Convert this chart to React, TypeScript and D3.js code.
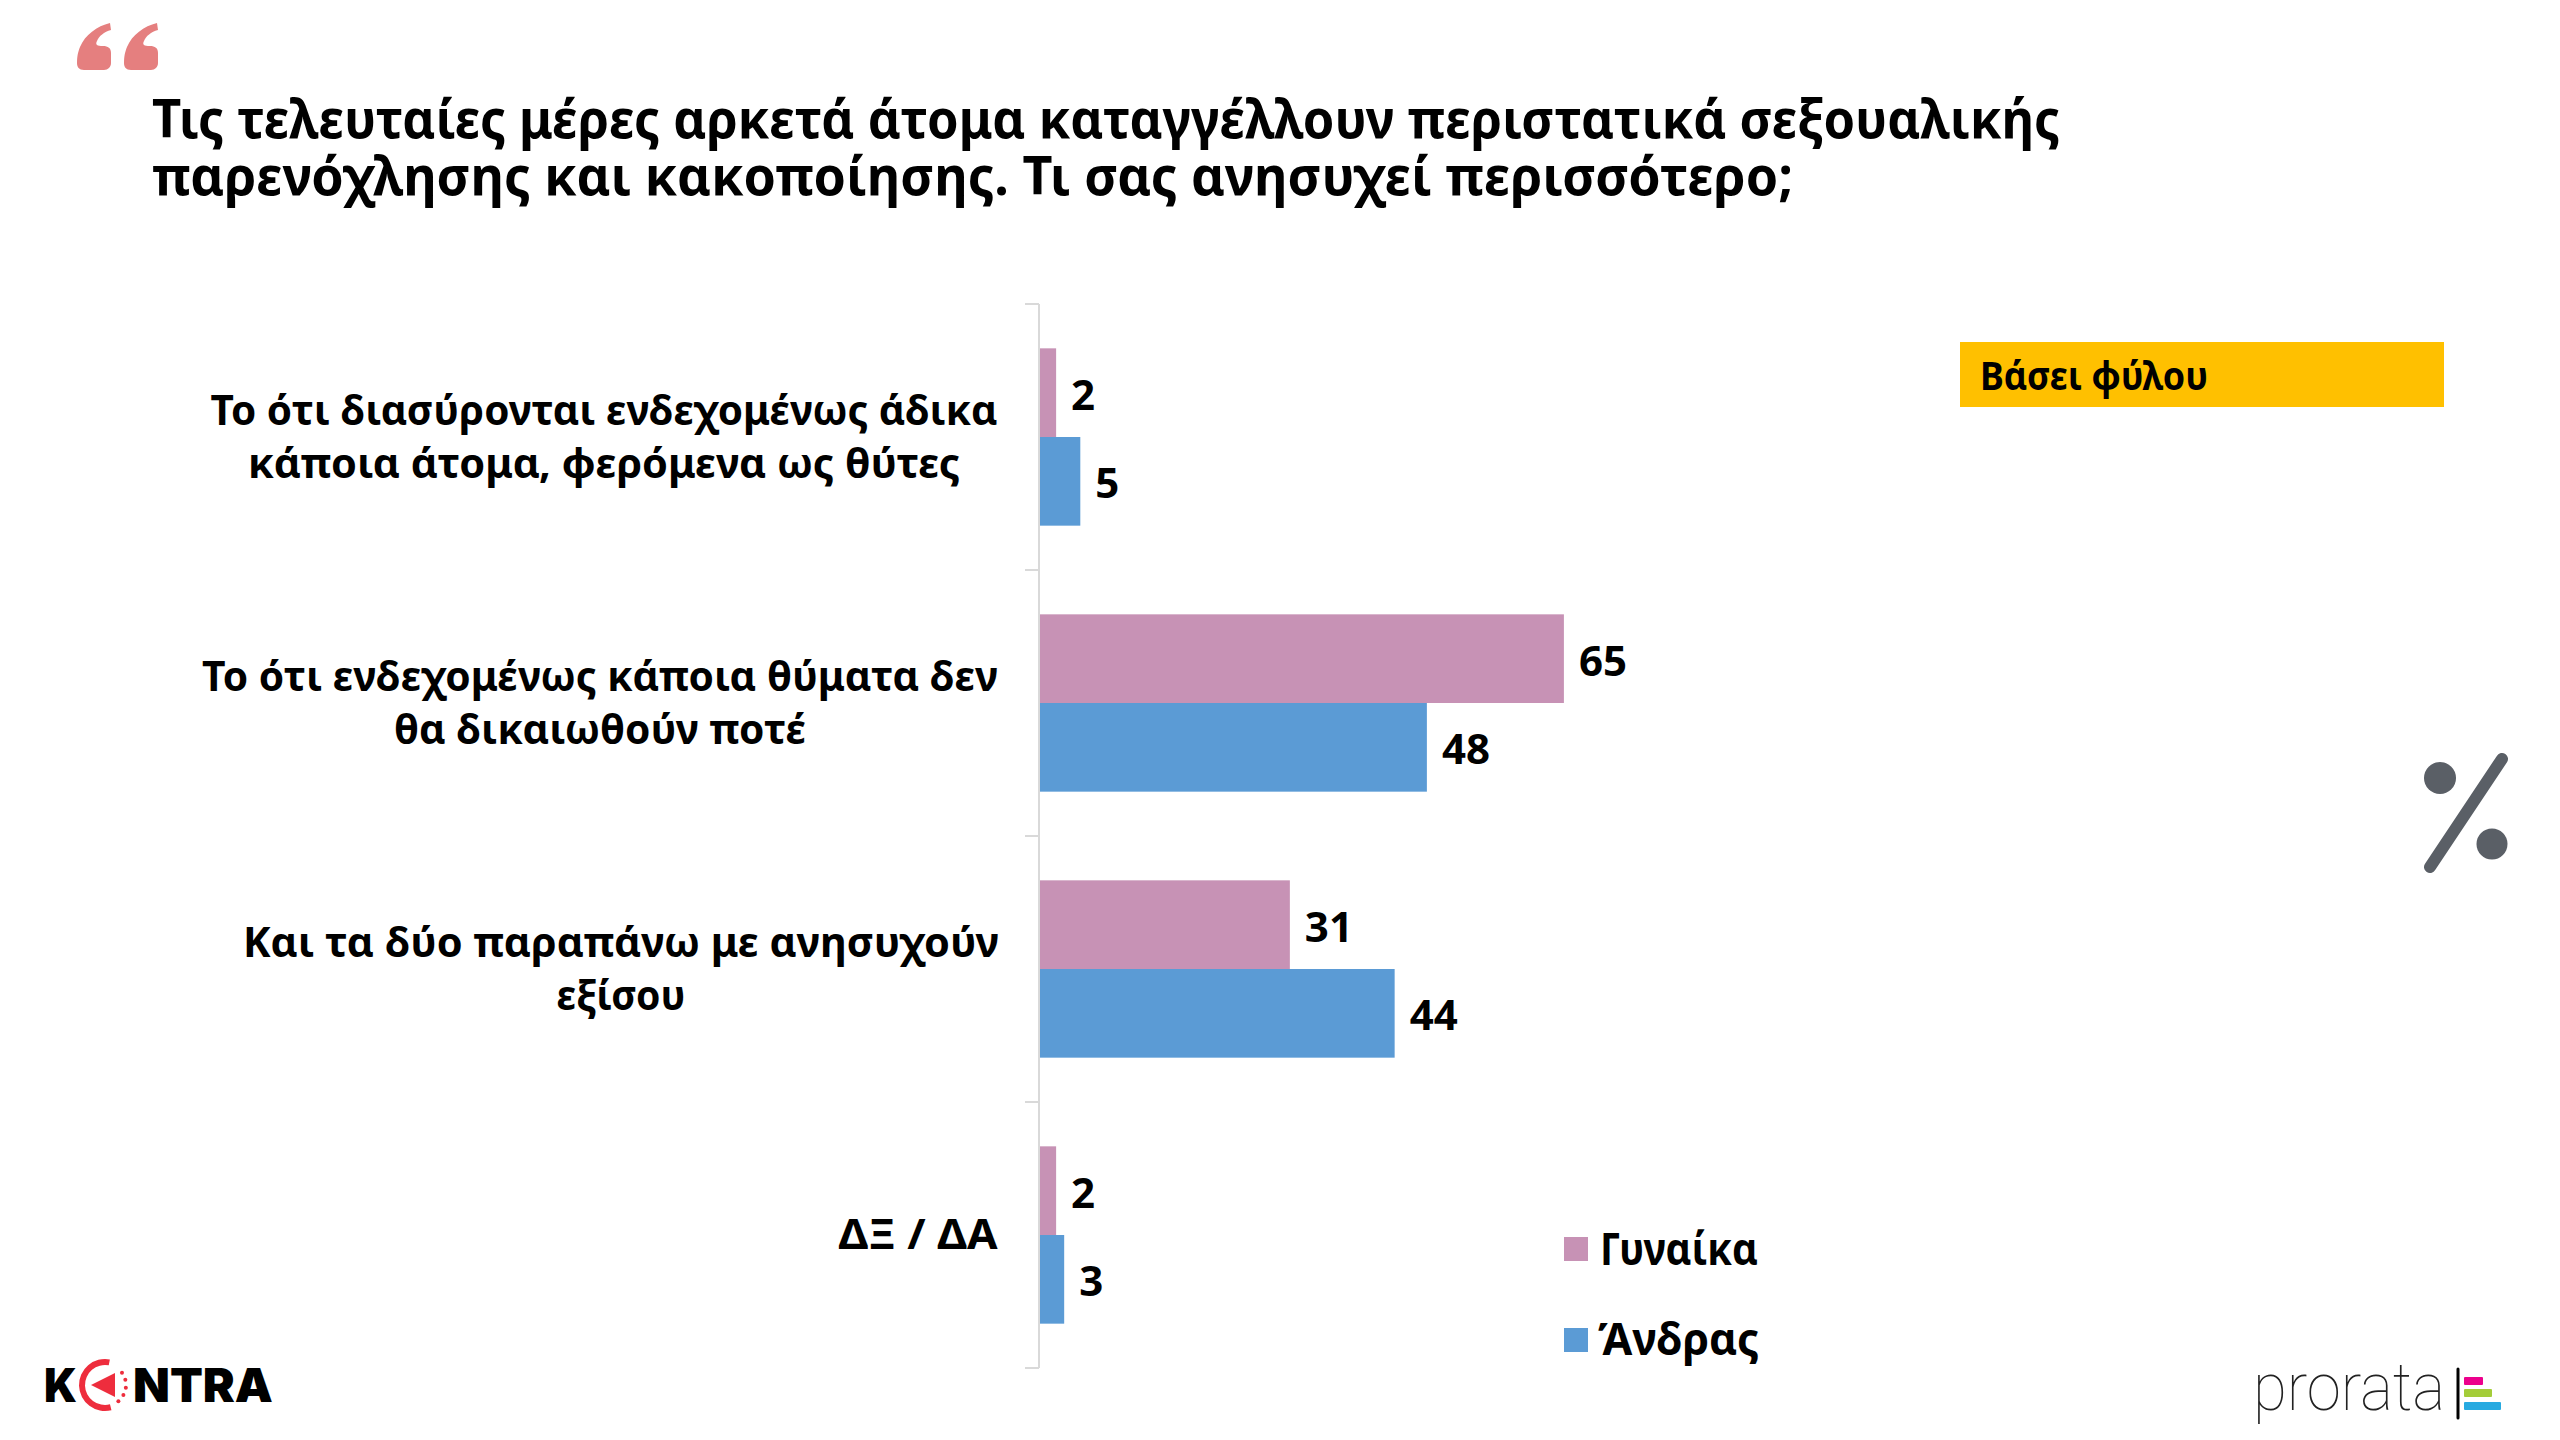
import * as d3 from 'd3';

const categories = ['row1', 'row2', 'row3', 'row4'];
const categoryLines = [
  ['Το ότι διασύρονται ενδεχομένως άδικα', 'κάποια άτομα, φερόμενα ως θύτες'],
  ['Το ότι ενδεχομένως κάποια θύματα δεν', 'θα δικαιωθούν ποτέ'],
  ['Και τα δύο παραπάνω με ανησυχούν', 'εξίσου'],
  ['ΔΞ / ΔΑ'],
];
const seriesNames = ['Γυναίκα', 'Άνδρας'];
const women = [2, 65, 31, 2];
const men = [5, 48, 44, 3];
const titleLines = [
  'Τις τελευταίες μέρες αρκετά άτομα καταγγέλλουν περιστατικά σεξουαλικής',
  'παρενόχλησης και κακοποίησης. Τι σας ανησυχεί περισσότερο;',
];

const FONT = '"Noto Sans", sans-serif';
const colors = ['#c792b5', '#5b9bd5'];

// measured text widths and centres of the label blocks
const labelCenters = [604, 600, 621, 918];
const labelWidths = [[787, 712], [796, 412], [756, 129], [159]];

const x = d3.scaleLinear().domain([0, 100]).range([1040, 1846]);
const y = d3
  .scaleBand<string>()
  .domain(categories)
  .range([304, 1368])
  .paddingInner(1 / 3)
  .paddingOuter(1 / 6);
const inner = d3.scaleBand<number>().domain([0, 1]).range([0, y.bandwidth()]);

const series = [women, men];
const tickYs = d3.range(categories.length + 1).map(i => 304 + i * y.step());

const redArc = d3.arc()({
  innerRadius: 20,
  outerRadius: 26,
  startAngle: Math.PI * 0.92,
  endAngle: Math.PI * 2.06,
}) as string;
const dotAngles = [0.3, 0.42, 0.54, 0.66, 0.78];

const quote = 'M33,0 C20,3 8,12 3,24 C1,29 0,33 0,40 C0,44 2,47 7,47 L27,47 C31,47 34,44 34,40 L34,30 C34,25 31,23 26,23 C20,23 18,22 20,18 C22,13 27,9 34,7 Z';

export default function App(): JSX.Element {
  return (
    <svg
      xmlns="http://www.w3.org/2000/svg"
      width={2560}
      height={1440}
      style={{ position: 'absolute', left: 0, top: 0, background: '#fff' }}
      fontFamily={FONT}
    >
      <g fill="#e57f7f">
        <path d={quote} transform="translate(77,23)" />
        <path d={quote} transform="translate(124,23)" />
      </g>

      {titleLines.map((t, i) => (
        <text
          key={t}
          x={152}
          y={138 + i * 57}
          fontSize={53}
          fontWeight={700}
          textLength={i === 0 ? 1908 : 1641}
          lengthAdjust="spacingAndGlyphs"
        >
          {t}
        </text>
      ))}

      <g stroke="#d9d9d9" strokeWidth={2}>
        <line x1={1039} x2={1039} y1={304} y2={1368} />
        {tickYs.map(t => (
          <line key={t} x1={1025} x2={1039} y1={t} y2={t} />
        ))}
      </g>

      {categories.map((c, i) => {
        const cy = (y(c) as number) + y.bandwidth() / 2;
        const lines = categoryLines[i];
        return (
          <g key={c}>
            {lines.map((l, j) => (
              <text
                key={l}
                x={labelCenters[i]}
                y={lines.length === 1 ? cy + 14 : cy - 12 + j * 53}
                fontSize={42}
                fontWeight={700}
                textAnchor="middle"
                textLength={labelWidths[i][j]}
                lengthAdjust="spacingAndGlyphs"
              >
                {l}
              </text>
            ))}
            {series.map((s, k) => (
              <g key={k}>
                <rect
                  x={x(0)}
                  y={(y(c) as number) + (inner(k) as number)}
                  width={x(s[i]) - x(0)}
                  height={inner.bandwidth()}
                  fill={colors[k]}
                />
                <text
                  x={x(s[i]) + 15}
                  y={(y(c) as number) + (inner(k) as number) + inner.bandwidth() / 2 + 17}
                  fontSize={42}
                  fontWeight={700}
                >
                  {s[i]}
                </text>
              </g>
            ))}
          </g>
        );
      })}

      <rect x={1960} y={342} width={484} height={65} fill="#ffc000" />
      <text x={1980} y={390} fontSize={40} fontWeight={700} textLength={228} lengthAdjust="spacingAndGlyphs">
        Βάσει φύλου
      </text>

      {seriesNames.map((n, i) => (
        <g key={n}>
          <rect x={1564} y={1237 + i * 91} width={24} height={24} fill={colors[i]} />
          <text
            x={i === 0 ? 1600 : 1598}
            y={1265 + i * 90}
            fontSize={44}
            fontWeight={700}
            textLength={i === 0 ? 158 : 161}
            lengthAdjust="spacingAndGlyphs"
          >
            {n}
          </text>
        </g>
      ))}

      <g fill="#5a5f66">
        <circle cx={2440} cy={778} r={16} />
        <circle cx={2492} cy={844} r={15.5} />
        <line x1={2502} y1={759} x2={2430} y2={867} stroke="#5a5f66" strokeWidth={12} strokeLinecap="round" />
      </g>

      <g>
        <text x={44} y={1402} fontSize={47} fontWeight={900} fontFamily="Inter, sans-serif" textLength={33} lengthAdjust="spacingAndGlyphs">
          K
        </text>
        <text x={133} y={1402} fontSize={47} fontWeight={900} fontFamily="Inter, sans-serif" textLength={140} lengthAdjust="spacingAndGlyphs">
          NTRA
        </text>
        <g transform="translate(105,1385)" fill="#ee2d3d">
          <path d={redArc} />
          <path d="M-14,0 L10,-12 L10,12 Z" />
          {dotAngles.map(a => (
            <circle key={a} cx={Math.sin(a * Math.PI) * 21} cy={-Math.cos(a * Math.PI) * 21} r={2} />
          ))}
        </g>
      </g>

      <text x={2253} y={1410} fontSize={66} fontWeight={100} fontFamily="Roboto, sans-serif" fill="#222" textLength={192} lengthAdjust="spacingAndGlyphs">
        prorata
      </text>
      <line x1={2458} x2={2458} y1={1369} y2={1418} stroke="#000" strokeWidth={3} strokeLinecap="round" />
      <rect x={2464} y={1377} width={19} height={8} rx={1} fill="#ec008c" />
      <rect x={2464} y={1389} width={28} height={8} rx={1} fill="#a4cd39" />
      <rect x={2464} y={1402} width={37} height={8} rx={1} fill="#27aae1" />
    </svg>
  );
}
